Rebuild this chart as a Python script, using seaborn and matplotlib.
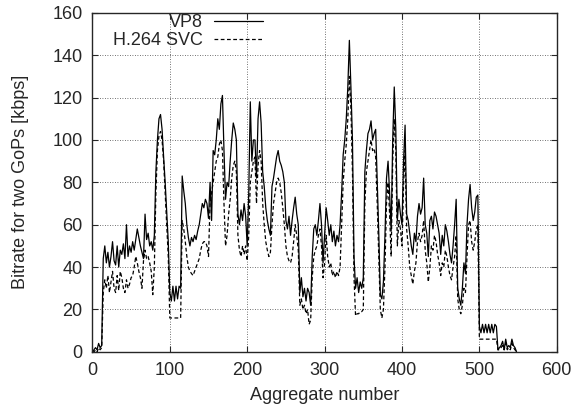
import matplotlib

matplotlib.use("Agg")
import matplotlib.pyplot as plt
import pandas as pd
import seaborn as sns

# aggregate index (every second aggregate)
aggregate = list(range(0, 550, 2))

vp8 = [
    0, 1, 2, 1, 4, 2, 3, 44, 50, 42, 47, 40, 45, 52, 43, 41, 50, 40, 48, 46,
    51, 44, 60, 45, 50, 47, 52, 48, 53, 58, 54, 50, 47, 44, 65, 53, 56, 50, 52, 48,
    55, 85, 100, 110, 112, 105, 92, 80, 66, 52, 28, 24, 31, 24, 31, 25, 31, 30, 83, 76,
    70, 60, 54, 50, 54, 52, 55, 53, 57, 60, 65, 70, 68, 72, 70, 63, 80, 62, 95, 93,
    100, 110, 105, 117, 121, 95, 72, 80, 78, 90, 100, 108, 105, 100, 65, 60, 67, 62, 70, 64,
    50, 75, 118, 90, 100, 100, 82, 110, 118, 108, 85, 78, 68, 62, 58, 55, 78, 82, 87, 92,
    95, 90, 88, 85, 80, 62, 58, 64, 55, 62, 68, 73, 65, 60, 28, 35, 26, 30, 24, 30,
    28, 22, 45, 58, 60, 55, 62, 70, 60, 42, 55, 68, 62, 55, 60, 52, 57, 50, 55, 52,
    60, 75, 93, 100, 110, 125, 147, 125, 100, 45, 30, 35, 28, 33, 30, 35, 85, 95, 103, 105,
    109, 100, 103, 105, 80, 56, 27, 25, 33, 55, 82, 90, 75, 57, 100, 125, 105, 62, 72, 65,
    60, 90, 107, 65, 62, 56, 50, 46, 56, 52, 64, 70, 65, 68, 82, 60, 56, 45, 62, 64,
    58, 66, 64, 60, 56, 46, 55, 50, 60, 57, 52, 46, 42, 50, 60, 72, 30, 25, 22, 30,
    42, 37, 60, 72, 79, 68, 62, 66, 73, 74, 12, 9, 13, 9, 13, 9, 13, 9, 13, 9,
    13, 12, 1, 2, 3, 5, 1, 6, 2, 3, 2, 6, 3, 2, 0,
]

h264_svc = [
    0, 0, 1, 0, 2, 1, 2, 28, 34, 30, 36, 28, 33, 38, 30, 28, 36, 29, 38, 35,
    30, 28, 34, 30, 32, 35, 36, 40, 45, 42, 38, 35, 30, 43, 48, 44, 45, 42, 38, 27,
    40, 75, 95, 102, 104, 100, 90, 75, 60, 45, 16, 16, 16, 16, 16, 16, 16, 16, 62, 58,
    52, 45, 40, 38, 37, 36, 38, 40, 42, 44, 48, 51, 52, 52, 50, 45, 70, 75, 80, 85,
    90, 92, 98, 100, 95, 70, 50, 55, 65, 72, 82, 88, 90, 85, 55, 48, 45, 50, 46, 50,
    43, 55, 80, 85, 90, 92, 70, 88, 95, 90, 70, 60, 52, 48, 45, 47, 60, 70, 75, 80,
    82, 80, 75, 68, 60, 50, 45, 43, 42, 45, 52, 60, 55, 48, 22, 25, 20, 22, 18, 20,
    13, 15, 35, 45, 48, 50, 55, 58, 50, 35, 42, 55, 45, 40, 42, 36, 38, 35, 38, 36,
    40, 60, 80, 90, 98, 110, 130, 115, 85, 35, 17, 18, 18, 19, 19, 20, 70, 85, 90, 95,
    100, 95, 96, 92, 70, 45, 20, 16, 20, 40, 70, 80, 65, 45, 90, 110, 95, 50, 62, 58,
    50, 78, 95, 58, 50, 40, 36, 32, 38, 42, 52, 56, 52, 55, 62, 48, 42, 33, 40, 50,
    48, 55, 52, 46, 42, 36, 42, 40, 48, 45, 40, 36, 34, 40, 45, 55, 25, 20, 18, 22,
    30, 28, 45, 60, 62, 52, 48, 52, 58, 60, 6, 6, 6, 6, 6, 6, 6, 6, 6, 6,
    6, 6, 1, 1, 2, 3, 1, 4, 1, 2, 1, 4, 2, 1, 0,
]

x_ticks = [0, 100, 200, 300, 400, 500, 600]
y_ticks = [0, 20, 40, 60, 80, 100, 120, 140, 160]


def main() -> None:
    sns.set_style("ticks")
    plt.rcParams["font.family"] = ["Liberation Sans", "DejaVu Sans"]

    df = pd.concat(
        [
            pd.DataFrame({"aggregate": aggregate, "kbps": vp8, "codec": "VP8"}),
            pd.DataFrame({"aggregate": aggregate, "kbps": h264_svc, "codec": "H.264 SVC"}),
        ],
        ignore_index=True,
    )

    fig = plt.figure(figsize=(5.74, 4.13), dpi=100)
    ax = fig.add_axes([0.161, 0.148, 0.809, 0.821])

    sns.lineplot(
        data=df,
        x="aggregate",
        y="kbps",
        hue="codec",
        style="codec",
        palette={"VP8": "black", "H.264 SVC": "black"},
        dashes={"VP8": "", "H.264 SVC": (3, 2)},
        linewidth=0.9,
        ax=ax,
    )

    ax.set_xlim(0, 600)
    ax.set_ylim(0, 160)
    ax.set_xticks(x_ticks)
    ax.set_yticks(y_ticks)
    ax.tick_params(direction="in", top=True, right=True, labelsize=13, length=4, pad=7)
    ax.grid(True, linestyle=(0, (1, 2)), color="#444444", linewidth=0.6)
    for spine in ax.spines.values():
        spine.set_linewidth(1.0)
        spine.set_visible(True)
    ax.set_xlabel("Aggregate number", fontsize=13, labelpad=6)
    ax.set_ylabel("Bitrate for two GoPs [kbps]", fontsize=13, labelpad=17)

    handles, labels = ax.get_legend_handles_labels()
    ax.legend(
        handles,
        labels,
        loc="upper right",
        bbox_to_anchor=(0.367, 0.995),
        frameon=False,
        markerfirst=False,
        fontsize=13,
        handlelength=2.7,
        handletextpad=0.6,
        labelspacing=0.05,
        borderaxespad=0,
        borderpad=0,
    )

    fig.savefig("out.png", dpi=100)
    plt.close(fig)


if __name__ == "__main__":
    main()
